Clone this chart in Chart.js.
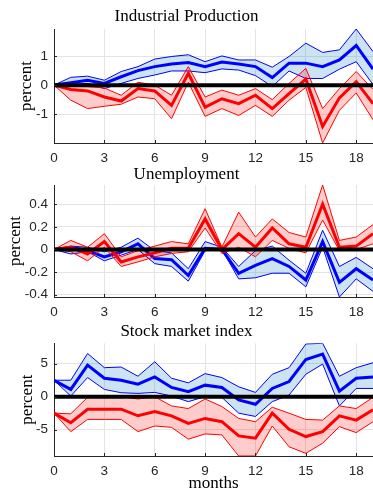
<!DOCTYPE html>
<html>
<head>
<meta charset="utf-8">
<script src="https://cdn.jsdelivr.net/npm/chart.js@4/dist/chart.umd.min.js"></script>
<style>
body { margin: 0; background: #fff; }
#wrap { position: relative; width: 373px; height: 494px; }
canvas { position: absolute; left: 0; }
</style>
</head>
<body>
<div id="wrap">
  <canvas id="c1" width="373" height="165" style="top:0px"></canvas>
  <canvas id="c2" width="373" height="161" style="top:158px"></canvas>
  <canvas id="c3" width="373" height="178" style="top:316px"></canvas>
</div>
<script>
var months = [0,1,2,3,4,5,6,7,8,9,10,11,12,13,14,15,16,17,18,19];
var xTicks = [0,3,6,9,12,15,18];

// Industrial Production
var ipBlue   = [0, 0.08, 0.17, 0.06, 0.29, 0.5, 0.64, 0.73, 0.78, 0.64, 0.8, 0.73, 0.64, 0.26, 0.76, 0.76, 0.64, 0.87, 1.37, 0.55];
var ipBlueHi = [0, 0.27, 0.31, 0.17, 0.47, 0.64, 0.9, 0.99, 1.05, 0.81, 1.01, 0.87, 0.87, 0.62, 0.99, 1.45, 1.13, 1.22, 1.94, 1.16];
var ipBlueLo = [0, 0.02, 0.06, -0.12, 0.06, 0.23, 0.35, 0.49, 0.49, 0.43, 0.56, 0.52, 0.33, -0.05, 0.49, 0.23, 0.23, 0.55, 0.81, 0.02];
var ipRed    = [0, -0.15, -0.2, -0.41, -0.55, -0.12, -0.2, -0.7, 0.41, -0.76, -0.47, -0.64, -0.35, -0.81, -0.29, 0.21, -1.43, -0.44, 0.12, -0.64];
var ipRedHi  = [0, -0.02, -0.05, -0.1, -0.35, 0.1, 0.0, -0.35, 0.64, -0.41, -0.17, -0.35, -0.12, -0.5, 0.06, 0.58, -0.81, -0.12, 0.47, -0.15];
var ipRedLo  = [0, -0.52, -0.81, -0.73, -0.66, -0.41, -0.47, -1.16, 0.1, -1.08, -0.81, -1.05, -0.7, -1.08, -0.52, -0.08, -2.0, -0.87, -0.27, -1.2];
var ipTicks  = [-1, 0, 1];

// Unemployment
var unBlue   = [0, 0.02, -0.01, -0.065, -0.02, 0.05, -0.08, -0.09, -0.23, 0.01, 0, -0.21, -0.14, -0.08, -0.15, -0.27, 0.07, -0.29, -0.17, -0.27];
var unBlueHi = [0, 0.03, 0.02, -0.02, 0.02, 0.1, -0.01, -0.03, -0.17, 0.07, 0.02, -0.15, -0.01, 0.03, -0.095, -0.21, 0.17, -0.15, -0.07, -0.17];
var unBlueLo = [0, -0.04, -0.02, -0.1, -0.05, 0, -0.125, -0.15, -0.28, -0.01, 0, -0.26, -0.25, -0.21, -0.21, -0.33, 0.02, -0.42, -0.26, -0.37];
var unRed    = [0, 0.02, -0.04, 0.07, -0.11, -0.065, -0.03, 0.01, 0.01, 0.27, 0, 0.14, 0.02, 0.19, 0.05, 0.02, 0.4, 0.02, 0.03, 0.14];
var unRedHi  = [0, 0.08, 0.02, 0.14, -0.065, -0.01, 0.03, 0.07, 0.05, 0.36, 0.02, 0.33, 0.11, 0.27, 0.15, 0.11, 0.57, 0.08, 0.11, 0.22];
var unRedLo  = [0, -0.02, -0.1, 0.02, -0.15, -0.11, -0.065, -0.035, -0.02, 0.19, -0.035, 0.02, -0.065, 0.08, 0.01, -0.03, 0.26, -0.01, 0, 0.05];
var unTicks  = [-0.4, -0.2, 0, 0.2, 0.4];

// Stock market index
var smBlue   = [2.5, 1.1, 4.8, 2.8, 2.5, 1.9, 3.0, 1.4, 0.75, 1.75, 1.4, -0.5, -1.15, 1.25, 2.3, 5.65, 6.45, 0.85, 2.8, 3.0];
var smBlueHi = [2.5, 2.5, 6.55, 4.4, 4.5, 3.1, 5.3, 2.8, 2.1, 3.5, 2.9, 1.5, 0.65, 3.4, 4.4, 8.0, 8.1, 3.1, 4.4, 5.15];
var smBlueLo = [2.5, 0.1, 2.9, 1.1, 0.6, 0.5, 0.65, 0.1, -0.75, 0, -0.1, -2.5, -3.0, -0.75, 0.25, 3.4, 4.95, -1.4, 1.25, 1.25];
var smRed    = [-2.5, -3.95, -1.9, -1.9, -1.9, -2.9, -2.25, -2.9, -4.05, -3.3, -3.8, -5.95, -6.3, -2.5, -4.95, -6.05, -5.3, -2.9, -3.55, -2.0];
var smRedHi  = [-2.5, -2.6, -0.1, 0, 0, -0.35, 0, -1.4, -1.8, -0.35, -1.5, -3.3, -3.8, -1.6, -2.5, -3.45, -3.55, -1.4, -1.8, -0.1];
var smRedLo  = [-2.5, -5.3, -3.45, -3.45, -3.45, -5.3, -4.45, -4.65, -6.45, -5.65, -5.8, -9.0, -9.0, -4.45, -7.6, -8.6, -7.05, -4.55, -5.45, -3.8];
var smTicks  = [-5, 0, 5];

var BLUE = '#0000ff', RED = '#ff0000';
var BLUE_FILL = 'rgba(0,114,189,0.2)', RED_FILL = 'rgba(255,0,0,0.2)';
var GRID = '#e4e4e4', AXIS = '#262626';
var SERIF = 'Liberation Serif';

// thick black line at zero (on top) + small inward tick marks like the original
var zeroLine = {
  id: 'zeroLine',
  afterDatasetsDraw: function(chart) {
    var a = chart.chartArea, ctx = chart.ctx, sx = chart.scales.x, sy = chart.scales.y;
    var y0 = sy.getPixelForValue(0);
    ctx.save();
    ctx.strokeStyle = '#000';
    ctx.lineWidth = 4;
    ctx.beginPath();
    ctx.moveTo(a.left, y0);
    ctx.lineTo(a.right, y0);
    ctx.stroke();
    ctx.strokeStyle = AXIS;
    ctx.lineWidth = 1;
    ctx.beginPath();
    sx.ticks.forEach(function(t) {
      var px = Math.round(sx.getPixelForValue(t.value)) + 0.5;
      ctx.moveTo(px, a.bottom);
      ctx.lineTo(px, a.bottom - 3);
    });
    sy.ticks.forEach(function(t) {
      var py = Math.round(sy.getPixelForValue(t.value)) + 0.5;
      ctx.moveTo(a.left, py);
      ctx.lineTo(a.left + 3, py);
    });
    ctx.stroke();
    ctx.restore();
  }
};

function line(vals, col, w, order, fill, fillCol) {
  return {
    data: vals, borderColor: col, borderWidth: w, pointRadius: 0, tension: 0,
    order: order, fill: fill || false, backgroundColor: fillCol || 'transparent'
  };
}

function makePanel(id, title, s, yMin, yMax, yTicks, p) {
  new Chart(document.getElementById(id), {
    type: 'line',
    data: {
      labels: months,
      datasets: [
        line(s[1], BLUE, 1, 5, '+1', BLUE_FILL),
        line(s[2], BLUE, 1, 4),
        line(s[0], BLUE, 3, 3),
        line(s[4], RED, 1, 2, '+1', RED_FILL),
        line(s[5], RED, 1, 1),
        line(s[3], RED, 3, 0)
      ]
    },
    options: {
      responsive: false,
      animation: false,
      devicePixelRatio: 1,
      layout: { padding: 0 },
      plugins: {
        legend: { display: false },
        tooltip: { enabled: false },
        title: {
          display: true, text: title, color: '#000',
          font: { family: SERIF, size: 17, weight: 'normal' },
          padding: { top: p.tTop, bottom: p.tBot }
        }
      },
      scales: {
        x: {
          type: 'linear', min: 0, max: 19,
          afterBuildTicks: function(sc) { sc.ticks = xTicks.map(function(v) { return { value: v }; }); },
          afterFit: function(sc) { sc.height = p.xH; },
          grid: { color: GRID, drawTicks: false },
          border: { color: AXIS, width: 1 },
          ticks: { padding: 7, color: AXIS, maxRotation: 0, autoSkip: false,
                   font: { family: 'Liberation Sans', size: 13.5 } },
          title: { display: p.months, text: 'months', color: '#000', padding: { top: 0, bottom: 0 },
                   font: { family: SERIF, size: 17 } }
        },
        y: {
          min: yMin, max: yMax,
          afterBuildTicks: function(sc) { sc.ticks = yTicks.map(function(v) { return { value: v }; }); },
          afterFit: function(sc) { sc.width = 54; },
          grid: { color: GRID, drawTicks: false },
          border: { color: AXIS, width: 1 },
          ticks: { padding: 6, color: AXIS, font: { family: 'Liberation Sans', size: 13.5 },
                   callback: function(v) { return String(v); } },
          title: { display: true, text: 'percent', color: '#000', padding: { top: p.yPad, bottom: 0 },
                   font: { family: SERIF, size: 17 } }
        }
      }
    },
    plugins: [zeroLine]
  });
}

makePanel('c1', 'Industrial Production', [ipBlue, ipBlueHi, ipBlueLo, ipRed, ipRedHi, ipRedLo],
  -2.0, 1.94, ipTicks, { tTop: 6.3, tBot: 2.3, xH: 22, yPad: 16.8, months: false });
makePanel('c2', 'Unemployment', [unBlue, unBlueHi, unBlueLo, unRed, unRedHi, unRedLo],
  -0.42, 0.57, unTicks, { tTop: 6, tBot: 0.6, xH: 22, yPad: 5.3, months: false });
makePanel('c3', 'Stock market index', [smBlue, smBlueHi, smBlueLo, smRed, smRedHi, smRedLo],
  -9.0, 8.1, smTicks, { tTop: 5.3, tBot: 1.6, xH: 38, yPad: 17.5, months: true });
</script>
</body>
</html>
